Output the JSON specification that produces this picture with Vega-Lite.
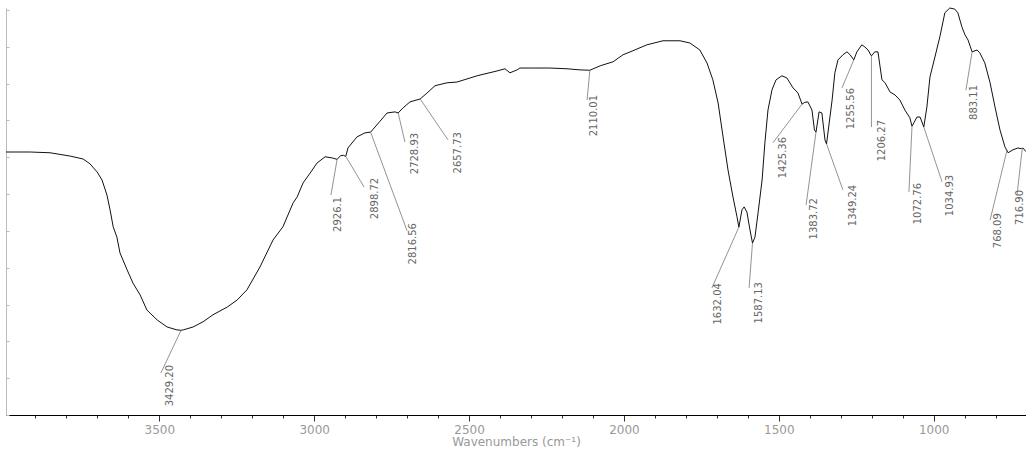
{
  "$schema": "https://vega.github.io/schema/vega-lite/v6.json",
  "width": 1020,
  "height": 407,
  "autosize": {"type": "none"},
  "padding": {"left": 6, "top": 8, "right": 0, "bottom": 40},
  "config": {"view": {"stroke": null}, "axis": {"grid": false}},
  "datasets": {
    "spectrum": [
      {"wn": 3995, "t": 71.4}, {"wn": 3917, "t": 71.4}, {"wn": 3853, "t": 71.2}, {"wn": 3788, "t": 70.3},
      {"wn": 3746, "t": 69.5}, {"wn": 3724, "t": 68.2}, {"wn": 3701, "t": 66.0}, {"wn": 3685, "t": 63.8},
      {"wn": 3669, "t": 59.7}, {"wn": 3659, "t": 55.7}, {"wn": 3649, "t": 51.1}, {"wn": 3637, "t": 48.3},
      {"wn": 3627, "t": 44.0}, {"wn": 3604, "t": 39.4}, {"wn": 3585, "t": 35.8}, {"wn": 3562, "t": 32.6},
      {"wn": 3540, "t": 28.5}, {"wn": 3507, "t": 25.8}, {"wn": 3475, "t": 23.9}, {"wn": 3443, "t": 23.1},
      {"wn": 3430, "t": 23.0}, {"wn": 3423, "t": 23.1}, {"wn": 3391, "t": 23.9}, {"wn": 3359, "t": 25.3},
      {"wn": 3327, "t": 27.2}, {"wn": 3281, "t": 29.3}, {"wn": 3249, "t": 31.2}, {"wn": 3217, "t": 34.0},
      {"wn": 3175, "t": 40.2}, {"wn": 3133, "t": 47.5}, {"wn": 3101, "t": 51.1}, {"wn": 3068, "t": 57.6},
      {"wn": 3055, "t": 59.2}, {"wn": 3036, "t": 63.0}, {"wn": 3013, "t": 65.7}, {"wn": 2991, "t": 68.4},
      {"wn": 2965, "t": 70.1}, {"wn": 2942, "t": 69.8}, {"wn": 2926, "t": 69.4}, {"wn": 2915, "t": 70.4},
      {"wn": 2905, "t": 70.5}, {"wn": 2898, "t": 70.2}, {"wn": 2891, "t": 72.5}, {"wn": 2862, "t": 75.5},
      {"wn": 2836, "t": 76.6}, {"wn": 2818, "t": 76.8}, {"wn": 2787, "t": 79.8}, {"wn": 2765, "t": 82.0},
      {"wn": 2739, "t": 82.3}, {"wn": 2729, "t": 82.0}, {"wn": 2713, "t": 83.4}, {"wn": 2691, "t": 85.0},
      {"wn": 2658, "t": 85.8}, {"wn": 2636, "t": 87.4}, {"wn": 2610, "t": 89.4}, {"wn": 2571, "t": 90.2},
      {"wn": 2539, "t": 90.4}, {"wn": 2474, "t": 92.1}, {"wn": 2410, "t": 93.4}, {"wn": 2384, "t": 94.0},
      {"wn": 2368, "t": 92.9}, {"wn": 2345, "t": 93.7}, {"wn": 2336, "t": 94.2}, {"wn": 2294, "t": 94.2},
      {"wn": 2239, "t": 94.2}, {"wn": 2184, "t": 94.0}, {"wn": 2142, "t": 93.7}, {"wn": 2110, "t": 93.6},
      {"wn": 2077, "t": 94.8}, {"wn": 2035, "t": 95.9}, {"wn": 2003, "t": 97.8}, {"wn": 1971, "t": 98.9},
      {"wn": 1926, "t": 100.5}, {"wn": 1874, "t": 101.6}, {"wn": 1819, "t": 101.6}, {"wn": 1787, "t": 101.0},
      {"wn": 1755, "t": 99.1}, {"wn": 1732, "t": 95.6}, {"wn": 1713, "t": 91.0}, {"wn": 1696, "t": 84.7},
      {"wn": 1680, "t": 75.5}, {"wn": 1664, "t": 66.5}, {"wn": 1648, "t": 59.2}, {"wn": 1635, "t": 53.8},
      {"wn": 1629, "t": 51.0}, {"wn": 1619, "t": 55.7}, {"wn": 1612, "t": 56.5}, {"wn": 1603, "t": 55.1},
      {"wn": 1593, "t": 50.2}, {"wn": 1585, "t": 46.7}, {"wn": 1577, "t": 48.3}, {"wn": 1567, "t": 54.9},
      {"wn": 1554, "t": 63.8}, {"wn": 1545, "t": 73.9}, {"wn": 1535, "t": 82.8}, {"wn": 1522, "t": 88.3},
      {"wn": 1509, "t": 91.0}, {"wn": 1490, "t": 92.1}, {"wn": 1474, "t": 91.5}, {"wn": 1454, "t": 88.8},
      {"wn": 1438, "t": 87.4}, {"wn": 1425, "t": 84.4}, {"wn": 1416, "t": 84.9}, {"wn": 1406, "t": 85.0},
      {"wn": 1393, "t": 82.8}, {"wn": 1385, "t": 77.4}, {"wn": 1380, "t": 76.8}, {"wn": 1370, "t": 82.3},
      {"wn": 1361, "t": 82.0}, {"wn": 1351, "t": 74.7}, {"wn": 1346, "t": 73.6}, {"wn": 1328, "t": 85.5},
      {"wn": 1319, "t": 92.9}, {"wn": 1309, "t": 96.4}, {"wn": 1293, "t": 97.8}, {"wn": 1280, "t": 98.6},
      {"wn": 1270, "t": 97.8}, {"wn": 1258, "t": 96.4}, {"wn": 1248, "t": 98.6}, {"wn": 1232, "t": 100.5},
      {"wn": 1222, "t": 99.9}, {"wn": 1212, "t": 99.1}, {"wn": 1201, "t": 97.5}, {"wn": 1190, "t": 98.6},
      {"wn": 1180, "t": 98.6}, {"wn": 1167, "t": 91.0}, {"wn": 1157, "t": 90.2}, {"wn": 1141, "t": 87.7},
      {"wn": 1125, "t": 86.9}, {"wn": 1109, "t": 85.5}, {"wn": 1093, "t": 82.8}, {"wn": 1077, "t": 80.7},
      {"wn": 1070, "t": 78.4}, {"wn": 1054, "t": 80.9}, {"wn": 1044, "t": 80.9}, {"wn": 1032, "t": 78.2},
      {"wn": 1022, "t": 83.6}, {"wn": 1012, "t": 91.8}, {"wn": 996, "t": 97.2}, {"wn": 980, "t": 102.7},
      {"wn": 964, "t": 109.2}, {"wn": 948, "t": 110.5}, {"wn": 932, "t": 110.2}, {"wn": 922, "t": 109.2},
      {"wn": 909, "t": 105.4}, {"wn": 899, "t": 103.2}, {"wn": 889, "t": 101.8}, {"wn": 876, "t": 98.6},
      {"wn": 860, "t": 99.1}, {"wn": 851, "t": 98.3}, {"wn": 835, "t": 95.6}, {"wn": 818, "t": 90.2},
      {"wn": 802, "t": 83.6}, {"wn": 786, "t": 77.4}, {"wn": 770, "t": 72.8}, {"wn": 760, "t": 71.2},
      {"wn": 744, "t": 72.0}, {"wn": 728, "t": 72.5}, {"wn": 717, "t": 72.3}, {"wn": 712, "t": 72.5},
      {"wn": 702, "t": 71.5}
    ],
    "peaks": [
      {"label": "3429.20", "wn": 3430, "t": 23.0, "tipWn": 3495, "tipT": 11.4, "txtWn": 3466, "txtT": 13.6},
      {"label": "2926.1", "wn": 2926, "t": 69.4, "tipWn": 2946, "tipT": 59.7, "txtWn": 2923, "txtT": 59.2},
      {"label": "2898.72", "wn": 2898, "t": 70.2, "tipWn": 2839, "tipT": 61.9, "txtWn": 2804, "txtT": 64.4},
      {"label": "2816.56", "wn": 2818, "t": 76.8, "tipWn": 2700, "tipT": 50.0, "txtWn": 2681, "txtT": 52.1},
      {"label": "2728.93", "wn": 2729, "t": 82.0, "tipWn": 2707, "tipT": 74.1, "txtWn": 2675, "txtT": 76.6},
      {"label": "2657.73", "wn": 2658, "t": 85.8, "tipWn": 2568, "tipT": 74.7, "txtWn": 2536, "txtT": 76.8},
      {"label": "2110.01", "wn": 2110, "t": 93.6, "tipWn": 2119, "tipT": 85.5, "txtWn": 2097, "txtT": 86.9},
      {"label": "1632.04", "wn": 1629, "t": 51.0, "tipWn": 1716, "tipT": 34.5, "txtWn": 1696, "txtT": 35.8},
      {"label": "1587.13", "wn": 1585, "t": 46.7, "tipWn": 1596, "tipT": 34.5, "txtWn": 1564, "txtT": 36.1},
      {"label": "1425.36", "wn": 1425, "t": 84.4, "tipWn": 1519, "tipT": 73.9, "txtWn": 1487, "txtT": 75.5},
      {"label": "1383.72", "wn": 1380, "t": 76.8, "tipWn": 1412, "tipT": 57.0, "txtWn": 1386, "txtT": 58.9},
      {"label": "1349.24", "wn": 1346, "t": 73.6, "tipWn": 1293, "tipT": 61.1, "txtWn": 1260, "txtT": 62.5},
      {"label": "1255.56", "wn": 1258, "t": 96.4, "tipWn": 1296, "tipT": 88.8, "txtWn": 1267, "txtT": 88.8},
      {"label": "1206.27", "wn": 1201, "t": 97.5, "tipWn": 1201, "tipT": 78.2, "txtWn": 1167, "txtT": 80.1},
      {"label": "1072.76", "wn": 1070, "t": 78.4, "tipWn": 1080, "tipT": 60.5, "txtWn": 1051, "txtT": 63.0},
      {"label": "1034.93", "wn": 1032, "t": 78.2, "tipWn": 973, "tipT": 63.3, "txtWn": 947, "txtT": 65.2},
      {"label": "883.11", "wn": 876, "t": 98.6, "tipWn": 896, "tipT": 88.2, "txtWn": 870, "txtT": 89.6},
      {"label": "768.09", "wn": 763, "t": 72.0, "tipWn": 818, "tipT": 52.9, "txtWn": 792, "txtT": 54.8},
      {"label": "716.90", "wn": 714, "t": 72.4, "tipWn": 731, "tipT": 59.7, "txtWn": 722, "txtT": 61.1}
    ]
  },
  "layer": [
    {
      "data": {"name": "spectrum"},
      "mark": {"type": "line", "color": "#111111", "strokeWidth": 1},
      "encoding": {
        "x": {
          "field": "wn", "type": "quantitative", "title": "Wavenumbers (cm⁻¹)",
          "scale": {"domain": [702, 3995], "reverse": true, "nice": false, "zero": false},
          "axis": {
            "values": [3900, 3800, 3700, 3600, 3500, 3400, 3300, 3200, 3100, 3000, 2900, 2800, 2700, 2600, 2500, 2400, 2300, 2200, 2100, 2000, 1900, 1800, 1700, 1600, 1500, 1400, 1300, 1200, 1100, 1000, 900, 800],
            "tickCount": 60,
            "format": "d",
            "labelExpr": "datum.value % 500 === 0 ? datum.label : ''",
            "tickSize": {"condition": {"test": "datum.value % 500 === 0", "value": 6}, "value": 3},
            "domainColor": "#000000",
            "tickColor": "#333333",
            "labelColor": "#999999",
            "labelFont": "DejaVu Sans",
            "labelFontSize": 12,
            "labelPadding": 3,
            "labelOverlap": false,
            "labelFlush": false,
            "titleColor": "#999999",
            "titleFont": "DejaVu Sans",
            "titleFontSize": 12,
            "titleFontWeight": "normal",
            "titlePadding": 1
          }
        },
        "y": {
          "field": "t", "type": "quantitative", "title": null,
          "scale": {"domain": [0, 110.5], "nice": false, "zero": false},
          "axis": {
            "labels": false,
            "values": [0, 10, 20, 30, 40, 50, 60, 70, 80, 90, 100, 110],
            "tickCount": 30,
            "tickSize": -3,
            "domainColor": "#bbbbbb",
            "tickColor": "#bbbbbb"
          }
        }
      }
    },
    {
      "data": {"name": "peaks"},
      "mark": {"type": "rule", "color": "#777777", "strokeWidth": 0.8},
      "encoding": {
        "x": {"field": "wn", "type": "quantitative", "title": "Wavenumbers (cm⁻¹)"},
        "y": {"field": "t", "type": "quantitative", "title": null},
        "x2": {"field": "tipWn"},
        "y2": {"field": "tipT"}
      }
    },
    {
      "data": {"name": "peaks"},
      "mark": {"type": "text", "angle": 270, "align": "right", "baseline": "middle", "font": "DejaVu Sans", "fontSize": 10, "color": "#666666"},
      "encoding": {
        "x": {"field": "txtWn", "type": "quantitative", "title": "Wavenumbers (cm⁻¹)"},
        "y": {"field": "txtT", "type": "quantitative", "title": null},
        "text": {"field": "label"}
      }
    }
  ]
}
